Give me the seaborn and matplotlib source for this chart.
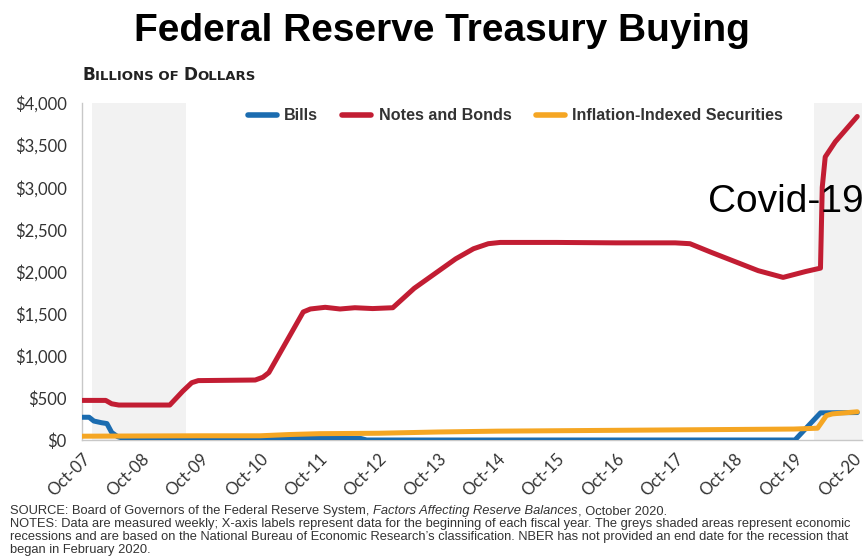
import numpy as np
import pandas as pd
import matplotlib
matplotlib.use("Agg")
import matplotlib.pyplot as plt
import seaborn as sns
from matplotlib.lines import Line2D

# ---------------- data (years after start of Oct 2007, billions of $) ----------------
START = 2007.75
tick_labels = ["Oct-07", "Oct-08", "Oct-09", "Oct-10", "Oct-11", "Oct-12", "Oct-13",
               "Oct-14", "Oct-15", "Oct-16", "Oct-17", "Oct-18", "Oct-19", "Oct-20"]
series_names = ["Bills", "Notes and Bonds", "Inflation-Indexed Securities"]

bills_t = [0.00, 0.12, 0.20, 0.33, 0.42, 0.50, 0.60, 0.70, 4.70, 4.80, 12.02, 12.45, 13.07]
bills_v = [270, 270, 225, 205, 195, 90, 40, 18, 18, 0, 0, 322, 326]

notes_t = [0.00, 0.40, 0.50, 0.62, 1.48, 1.70, 1.85, 1.96, 2.92, 3.05, 3.15, 3.73, 3.85,
           4.10, 4.35, 4.60, 4.90, 5.24, 5.60, 6.00, 6.30, 6.60, 6.85, 7.05, 8.00, 9.00,
           10.00, 10.25, 10.60, 11.00, 11.40, 11.82, 12.20, 12.45, 12.48, 12.53, 12.70, 13.07]
notes_v = [470, 470, 430, 415, 415, 580, 680, 705, 712, 745, 800, 1520, 1555,
           1575, 1555, 1570, 1560, 1570, 1800, 2000, 2150, 2270, 2330, 2345, 2345, 2340,
           2340, 2330, 2230, 2120, 2010, 1930, 2000, 2040, 3000, 3360, 3540, 3840]

tips_t = [0.0, 1.0, 2.0, 3.0, 3.5, 4.0, 5.0, 6.0, 7.0, 8.0, 9.0, 10.0, 11.0, 12.0,
          12.40, 12.55, 12.65, 13.07]
tips_v = [45, 48, 50, 50, 65, 75, 80, 95, 105, 110, 115, 120, 125, 130,
          140, 290, 310, 335]

recessions = [(2007.92, 2009.50), (2020.09, 2021.0)]

palette = {"Bills": "#1b6cb0", "Notes and Bonds": "#c21d33",
           "Inflation-Indexed Securities": "#f5a623"}

# ---------------- figure ----------------
sns.set_theme(style="white")
plt.rcParams["font.family"] = ["Lato", "DejaVu Sans"]

W, H = 864, 556
fig = plt.figure(figsize=(W / 100, H / 100), dpi=100)
ax = fig.add_axes([82 / W, 1 - 440 / H, (862 - 82) / W, (440 - 103) / H])

frames = []
for name, t, v in [("Bills", bills_t, bills_v),
                   ("Notes and Bonds", notes_t, notes_v),
                   ("Inflation-Indexed Securities", tips_t, tips_v)]:
    frames.append(pd.DataFrame({"x": START + np.array(t), "v": v, "series": name}))
df = pd.concat(frames, ignore_index=True)

xmax = START + 13.15
for a, b in recessions:
    ax.axvspan(a, min(b, xmax), color="#f2f2f2", zorder=0, lw=0)

sns.lineplot(data=df, x="x", y="v", hue="series", hue_order=series_names,
             palette=palette, linewidth=3.6, estimator=None, legend=False, ax=ax)
for ln in ax.lines:
    ln.set_solid_capstyle("round")
    ln.set_solid_joinstyle("round")
    ln.set_zorder(3)

ax.set_xlim(START, xmax)
ax.set_ylim(0, 4000)
ax.set_xlabel("")
ax.set_ylabel("")

ax.set_yticks(np.arange(0, 4001, 500))
ax.set_yticklabels([f"${v:,.0f}" for v in np.arange(0, 4001, 500)])
ax.set_xticks(START + np.arange(len(tick_labels)))
ax.set_xticklabels(tick_labels, rotation=45, ha="right", rotation_mode="anchor")

for s in ["top", "right"]:
    ax.spines[s].set_visible(False)
for s in ["left", "bottom"]:
    ax.spines[s].set_color("#c8c8c8")
    ax.spines[s].set_linewidth(1.0)
ax.tick_params(axis="both", which="both", length=5, width=1, color="#c8c8c8",
               labelcolor="#333333", labelsize=12)
ax.tick_params(axis="y", pad=6)
ax.tick_params(axis="x", pad=3)

# legend
handles = [Line2D([0], [0], color=palette[n], lw=4, solid_capstyle="round") for n in series_names]
fig.legend(handles, series_names, loc="center left",
           bbox_to_anchor=(248 / W, 1 - 116 / H), bbox_transform=fig.transFigure,
           ncol=3, frameon=False, handlelength=1.8, handletextpad=0.45,
           columnspacing=1.5, borderpad=0, borderaxespad=0,
           prop={"family": "Liberation Sans", "weight": "bold", "size": 11.6},
           labelcolor="#333333")

# title
fig.text(442 / W, 1 - 31 / H, "Federal Reserve Treasury Buying", ha="center", va="center",
         fontsize=28, fontweight="bold", family="Liberation Sans", color="black")

renderer = fig.canvas.get_renderer()


def rich(x_px, y_px, pieces):
    x = x_px
    for s, kw in pieces:
        t = fig.text(x / W, 1 - y_px / H, s, ha="left", va="baseline", **kw)
        x += t.get_window_extent(renderer=renderer).width


# small-caps axis unit label
big = dict(fontsize=12.2, fontweight="bold", family="DejaVu Sans", color="#222222")
small = dict(fontsize=9.5, fontweight="bold", family="DejaVu Sans", color="#222222")
rich(82, 80, [("B", big), ("ILLIONS OF ", small), ("D", big), ("OLLARS", small)])

# Covid annotation
fig.text(708 / W, 1 - 212 / H, "Covid-19", ha="left", va="baseline", fontsize=28,
         family="Liberation Sans", color="black", zorder=10)

# footnotes
fn = dict(fontsize=9.3, family="Liberation Sans", color="#333333")
fni = dict(fontsize=9.3, family="Liberation Sans", style="italic", color="#333333")
rich(10, 514, [("SOURCE: Board of Governors of the Federal Reserve System, ", fn),
               ("Factors Affecting Reserve Balances", fni),
               (", October 2020.", fn)])
fig.text(10 / W, 1 - 527 / H,
         "NOTES: Data are measured weekly; X-axis labels represent data for the beginning of each "
         "fiscal year. The greys shaded areas represent economic",
         ha="left", va="baseline", **fn)
fig.text(10 / W, 1 - 540 / H,
         "recessions and are based on the National Bureau of Economic Research\u2019s classification. "
         "NBER has not provided an end date for the recession that",
         ha="left", va="baseline", **fn)
fig.text(10 / W, 1 - 553 / H, "began in February 2020.", ha="left", va="baseline", **fn)

fig.savefig("out.png", dpi=100, facecolor="white")
